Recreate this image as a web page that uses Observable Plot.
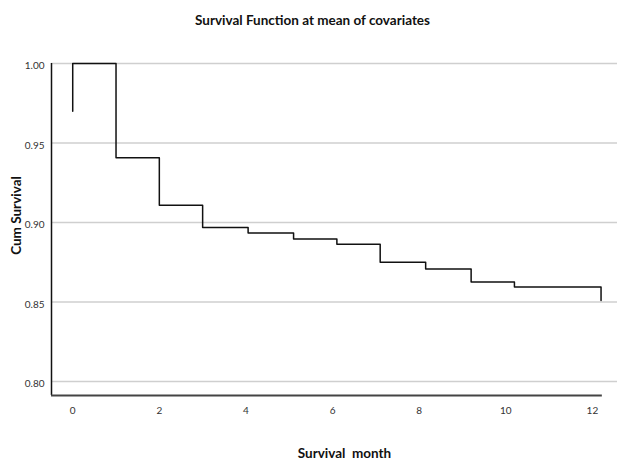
<!DOCTYPE html>
<html>
<head>
<meta charset="utf-8">
<script src="https://cdn.jsdelivr.net/npm/d3@7"></script>
<script src="https://cdn.jsdelivr.net/npm/@observablehq/plot@0.6"></script>
<style>
  html, body { margin: 0; padding: 0; background: #fff; }
  #chart svg { display: block; }
</style>
</head>
<body>
<div id="chart"></div>
<script>
// Data
const months   = [0, 0, 1, 2, 3, 4.05, 5.1, 6.1, 7.1, 8.15, 9.2, 10.2, 12.2];
const survival = [0.970, 1.000, 0.9407, 0.9109, 0.8968, 0.8934, 0.8896, 0.8863, 0.8750, 0.8707, 0.8626, 0.8594, 0.8510];
const xTicks = [0, 2, 4, 6, 8, 10, 12];
const yTicks = [0.80, 0.85, 0.90, 0.95, 1.00];
const titleText = "Survival Function at mean of covariates";
const xLabel = "Survival  month";
const yLabel = "Cum Survival";

const data = months.map((m, i) => ({month: m, surv: survival[i]}));
const font = "Lato, 'Open Sans', sans-serif";

const xMin = -0.49, xMax = 12.58, xAxisEnd = 12.23;
const yMin = 0.7912, yMax = 1.0;

const chart = Plot.plot({
  width: 619,
  height: 462,
  marginLeft: 51,
  marginRight: 2,
  marginTop: 63,
  marginBottom: 67,
  style: {fontFamily: font, background: "#fff"},
  x: {domain: [xMin, xMax]},
  y: {domain: [yMin, yMax]},
  marks: [
    Plot.gridY(yTicks, {stroke: "#cfcfcf", strokeOpacity: 1, strokeWidth: 1.5}),
    Plot.axisY(yTicks, {tickFormat: d3.format(".2f"), tickSize: 0, tickPadding: 7, dy: 2.5, fontSize: 10, fill: "#333", label: null}),
    Plot.axisX(xTicks, {tickSize: 0, tickPadding: 11, fontSize: 10, fill: "#333", label: null}),
    Plot.ruleX([xMin], {y1: yMin, y2: yMax, stroke: "#111", strokeWidth: 1.5}),
    Plot.ruleY([yMin], {x1: xMin, x2: xAxisEnd, stroke: "#444", strokeWidth: 2}),
    Plot.line(data, {x: "month", y: "surv", curve: "step-after", stroke: "#111", strokeWidth: 1.5}),
    Plot.text([titleText], {frameAnchor: "top", dy: -48, dx: -22, fontSize: 13.5, fontWeight: "bold", fill: "#111"}),
    Plot.text([xLabel], {frameAnchor: "bottom", dy: 62, dx: 10, fontSize: 13.5, fontWeight: "bold", fill: "#111", textAnchor: "middle"}),
    Plot.text([yLabel], {frameAnchor: "left", dx: -35, dy: -14, rotate: -90, textAnchor: "middle", fontSize: 13.5, fontWeight: "bold", fill: "#111"})
  ]
});
document.getElementById("chart").appendChild(chart);
</script>
</body>
</html>
